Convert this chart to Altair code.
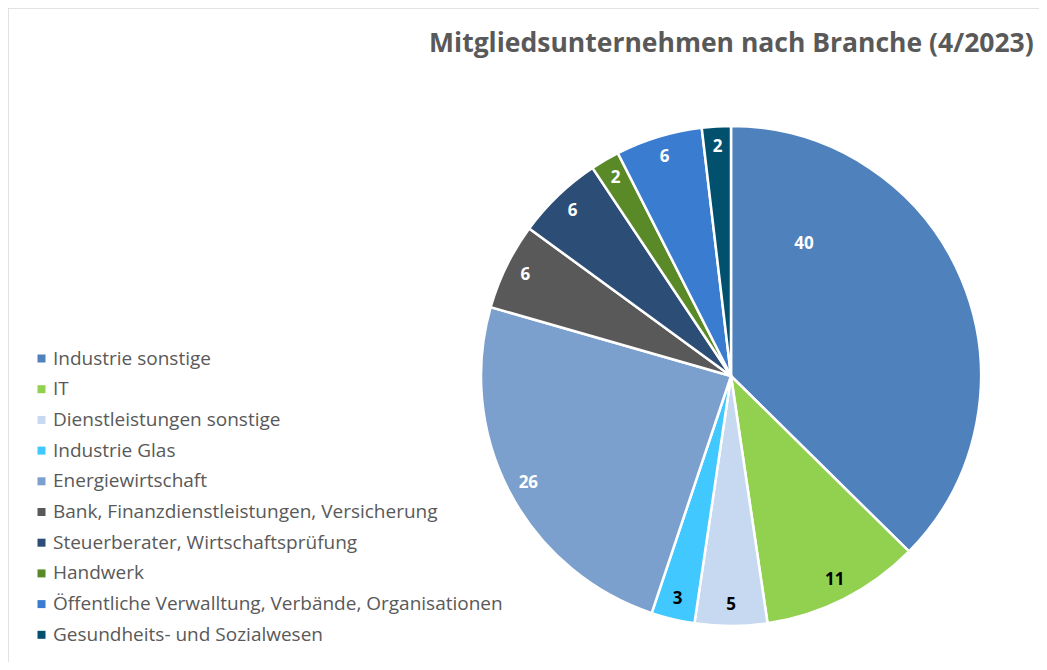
import altair as alt
import pandas as pd

categories = [
    "Industrie sonstige",
    "IT",
    "Dienstleistungen sonstige",
    "Industrie Glas",
    "Energiewirtschaft",
    "Bank, Finanzdienstleistungen, Versicherung",
    "Steuerberater, Wirtschaftsprüfung",
    "Handwerk",
    "Öffentliche Verwalltung, Verbände, Organisationen",
    "Gesundheits- und Sozialwesen",
]
values = [40, 11, 5, 3, 26, 6, 6, 2, 6, 2]
colors = ["#4F81BD", "#92D050", "#C6D9F1", "#40C8FF", "#7BA0CD",
          "#595959", "#2C4D75", "#5A8A27", "#3A7CD0", "#00506E"]
dark_label_cats = ["IT", "Dienstleistungen sonstige", "Industrie Glas"]
title_text = "Mitgliedsunternehmen nach Branche (4/2023)"

df = pd.DataFrame({"cat": categories, "value": values, "idx": list(range(len(values)))})

W, H = 1031, 594
CX, CY, R = 723, 308, 250
FONT = "Open Sans"

base = alt.Chart(df)

arcs = base.mark_arc(stroke="white", strokeWidth=2.5, outerRadius=R).encode(
    x=alt.value(CX),
    y=alt.value(CY),
    theta=alt.Theta("value:Q", stack=True),
    order=alt.Order("idx:Q"),
    color=alt.Color(
        "cat:N",
        sort=categories,
        scale=alt.Scale(domain=categories, range=colors),
        legend=alt.Legend(
            title=None,
            orient="none",
            legendX=24,
            legendY=281,
            symbolType="square",
            symbolSize=64,
            symbolStrokeWidth=0,
            labelFont=FONT,
            labelFontSize=19,
            labelColor="#595959",
            labelLimit=600,
            rowPadding=10.7,
            labelOffset=2,
        ),
    ),
)

labels = base.transform_window(
    cum="sum(value)", sort=[alt.SortField("idx")], frame=[None, 0]
).transform_joinaggregate(
    total="sum(value)"
).transform_calculate(
    start="(datum.cum - datum.value) / datum.total * 2 * PI",
    span="datum.value / datum.total * 2 * PI",
).transform_calculate(
    labA="datum.idx == 0 ? datum.start + 0.215 * datum.span : datum.start + datum.span / 2",
    labR="datum.idx == 0 ? 151 : 229",
).mark_text(font=FONT, fontSize=17, fontWeight="bold", baseline="middle", align="center").encode(
    x=alt.value(CX),
    y=alt.value(CY),
    theta=alt.Theta("labA:Q", scale=None),
    radius=alt.Radius("labR:Q", scale=None),
    text=alt.Text("value:Q"),
    color=alt.condition(
        alt.FieldOneOfPredicate(field="cat", oneOf=dark_label_cats),
        alt.value("black"),
        alt.value("white"),
    ),
)

frame_left = base.mark_rule(color="#D9D9D9", strokeWidth=1.5).encode(
    x=alt.value(0), y=alt.value(-60), y2=alt.value(H)
).transform_filter("datum.idx == 0")
frame_top = base.mark_rule(color="#D9D9D9", strokeWidth=1.5).encode(
    x=alt.value(0), x2=alt.value(W), y=alt.value(-60)
).transform_filter("datum.idx == 0")

chart = alt.layer(arcs, labels, frame_left, frame_top).properties(
    width=W,
    height=H,
    padding={"left": 0, "top": 60, "right": 0, "bottom": 0},
    autosize=alt.AutoSizeParams(type="none"),
    title=alt.TitleParams(
        title_text,
        anchor="end",
        font=FONT,
        fontSize=26.5,
        fontWeight="bold",
        color="#595959",
        offset=0,
        dy=50,
        dx=-6,
    ),
).configure_view(stroke=None)

chart.save("out.html", embed_options={"renderer": "svg", "actions": False})
